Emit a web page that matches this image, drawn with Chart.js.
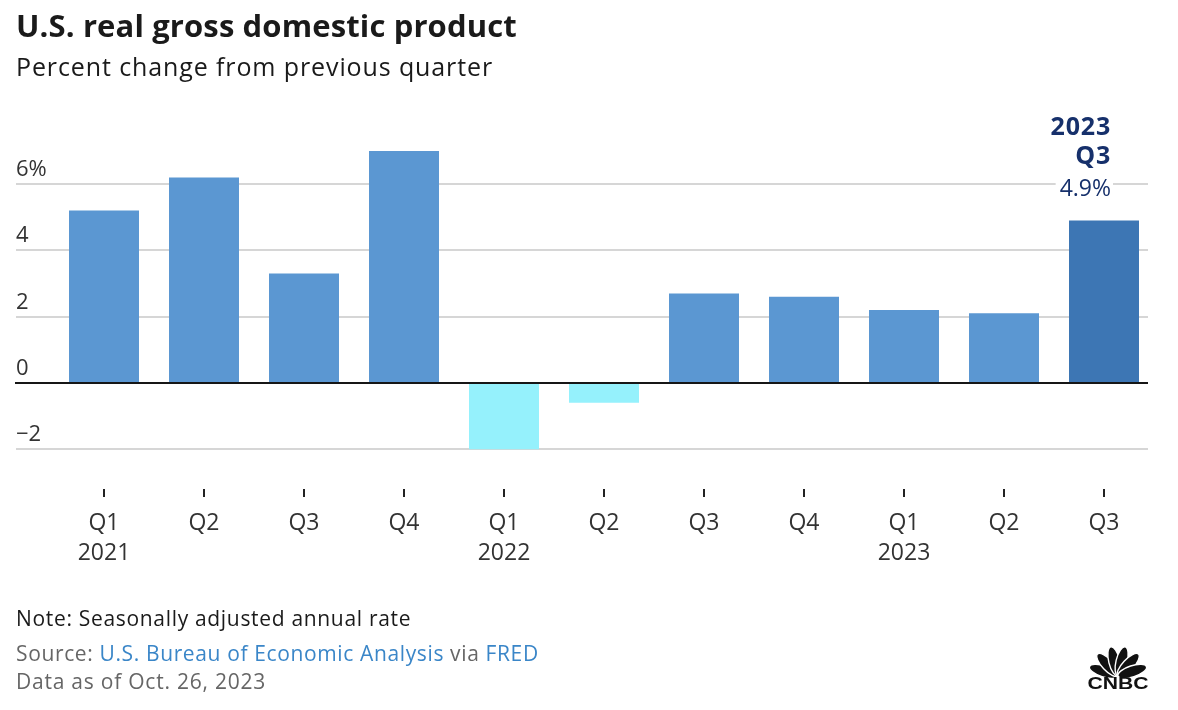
<!DOCTYPE html>
<html>
<head>
<meta charset="utf-8">
<script src="https://cdn.jsdelivr.net/npm/chart.js@4/dist/chart.umd.min.js"></script>
<style>
  html, body { margin: 0; padding: 0; background: #fff; }
  body { width: 1178px; height: 710px; position: relative; overflow: hidden; font-family: "Open Sans", Lato, sans-serif; }
  #c { position: absolute; left: 0; top: 0; }
  .t { position: absolute; left: 16px; line-height: 1; white-space: nowrap; }
  #title { top: 10px; font-size: 31px; font-weight: 700; color: #1a1a1a; }
  #subtitle { top: 54px; font-size: 25px; color: #1a1a1a; }
  #note { top: 608px; font-size: 21px; color: #1a1a1a; }
  #source { top: 643px; font-size: 21px; color: #666; }
  #asof { top: 671px; font-size: 21px; color: #666; }
  .lk { color: #3a86c8; }
  #logo { position: absolute; left: 1084px; top: 640px; }
</style>
</head>
<body>
<canvas id="c" width="1178" height="710"></canvas>
<div class="t" id="title">U.S. real gross domestic product</div>
<div class="t" id="subtitle">Percent change from previous quarter</div>
<div class="t" id="note">Note: Seasonally adjusted annual rate</div>
<div class="t" id="source">Source: <span class="lk">U.S. Bureau of Economic Analysis</span> via <span class="lk">FRED</span></div>
<div class="t" id="asof">Data as of Oct. 26, 2023</div>
<svg id="logo" width="68" height="52" viewBox="0 0 68 52">
  <g fill="#111" stroke="#fff" stroke-width="1.4" transform="translate(34,36)">
    <ellipse cx="0" cy="-15" rx="5.6" ry="15" transform="rotate(-72)"/>
    <ellipse cx="0" cy="-15" rx="5.6" ry="15" transform="rotate(-43)"/>
    <ellipse cx="0" cy="-15" rx="5.6" ry="15" transform="rotate(-14)"/>
    <ellipse cx="0" cy="-15" rx="5.6" ry="15" transform="rotate(14)"/>
    <ellipse cx="0" cy="-15" rx="5.6" ry="15" transform="rotate(43)"/>
    <ellipse cx="0" cy="-15" rx="5.6" ry="15" transform="rotate(72)"/>
  </g>
  <text x="34" y="49" text-anchor="middle" font-family="Liberation Sans, Arial, sans-serif" font-weight="900" font-size="16" textLength="61" lengthAdjust="spacingAndGlyphs" fill="#111">CNBC</text>
</svg>
<script>
// ---- data ----
const quarters = ['Q1','Q2','Q3','Q4','Q1','Q2','Q3','Q4','Q1','Q2','Q3'];
const years    = ['2021','','','','2022','','','','2023','',''];
const gdpChange = [5.2, 6.2, 3.3, 7.0, -2.0, -0.6, 2.7, 2.6, 2.2, 2.1, 4.9];
const gridValues = [-2, 2, 4, 6];
const yTickValues = [-2, 0, 2, 4, 6];
const yTickLabels = ['\u22122', '0', '2', '4', '6%'];
const highlightLines = ['2023', 'Q3', '4.9%'];

// ---- text width fitting (styling only) ----
function fitWidth(id, target) {
  const el = document.getElementById(id);
  const w = el.getBoundingClientRect().width;
  const n = el.textContent.length;
  el.style.letterSpacing = ((target - w) / n).toFixed(2) + 'px';
}
fitWidth('title', 501);
fitWidth('subtitle', 477);
fitWidth('note', 395);
fitWidth('source', 523);
fitWidth('asof', 250);

// ---- styling ----
const COL_POS = '#5b97d2';
const COL_NEG = '#95f1fc';
const COL_LAST = '#3d76b4';
const lastIdx = gdpChange.length - 1;
const barColors = gdpChange.map((v, i) => i === lastIdx ? COL_LAST : (v < 0 ? COL_NEG : COL_POS));
const labels = quarters.map((q, i) => years[i] ? [q, years[i]] : q);

const FONT = '"Open Sans", Lato, sans-serif';

const customPlugin = {
  id: 'custom',
  beforeDatasetsDraw(chart) {
    const ctx = chart.ctx, y = chart.scales.y;
    ctx.save();
    ctx.strokeStyle = '#d6d6d6';
    ctx.lineWidth = 2;
    gridValues.forEach(v => {
      const py = Math.round(y.getPixelForValue(v));
      ctx.beginPath(); ctx.moveTo(16, py); ctx.lineTo(1148, py); ctx.stroke();
    });
    ctx.fillStyle = '#333';
    ctx.font = '22px ' + FONT;
    ctx.textAlign = 'left';
    ctx.textBaseline = 'alphabetic';
    yTickValues.forEach((v, i) => {
      const py = y.getPixelForValue(v);
      ctx.fillText(yTickLabels[i], 16, py - 8);
    });
    ctx.restore();
  },
  afterDatasetsDraw(chart) {
    const ctx = chart.ctx, x = chart.scales.x, y = chart.scales.y;
    ctx.save();
    // zero line
    const y0 = y.getPixelForValue(0);
    ctx.strokeStyle = '#161616';
    ctx.lineWidth = 2;
    ctx.beginPath(); ctx.moveTo(15, y0); ctx.lineTo(1148, y0); ctx.stroke();
    // highlight annotation
    const px = x.getPixelForValue(lastIdx) + 7;
    const top = y.getPixelForValue(gdpChange[lastIdx]);
    ctx.textAlign = 'right';
    ctx.textBaseline = 'alphabetic';
    ctx.font = '23px ' + FONT;
    const w = ctx.measureText(highlightLines[2]).width;
    ctx.fillStyle = '#fff';
    ctx.fillRect(px - w - 4, top - 46, w + 6, 24);
    ctx.fillStyle = '#16306b';
    ctx.fillText(highlightLines[2], px, top - 25);
    ctx.font = 'bold 25px ' + FONT;
    if ('letterSpacing' in ctx) ctx.letterSpacing = '0.8px';
    ctx.fillText(highlightLines[1], px, top - 57);
    ctx.fillText(highlightLines[0], px, top - 86);
    ctx.restore();
  }
};

new Chart(document.getElementById('c'), {
  type: 'bar',
  data: {
    labels: labels,
    datasets: [{
      data: gdpChange,
      backgroundColor: barColors,
      borderWidth: 0,
      barPercentage: 0.7,
      categoryPercentage: 1.0
    }]
  },
  options: {
    responsive: false,
    animation: false,
    devicePixelRatio: 1,
    layout: { padding: { left: 54, right: 24, top: 131, bottom: 101 } },
    plugins: { legend: { display: false }, tooltip: { enabled: false }, title: { display: false } },
    scales: {
      y: { display: false, min: -3.2, max: 7.6 },
      x: {
        offset: true,
        afterFit: (s) => { s.height = 120; },
        border: { display: false },
        grid: { offset: false, drawOnChartArea: false, drawTicks: true, tickLength: 8, color: '#222', lineWidth: 2 },
        ticks: { color: '#333', padding: 11, maxRotation: 0, autoSkip: false, font: { family: FONT, size: 23, lineHeight: 30/23 } }
      }
    }
  },
  plugins: [customPlugin]
});
</script>
</body>
</html>
